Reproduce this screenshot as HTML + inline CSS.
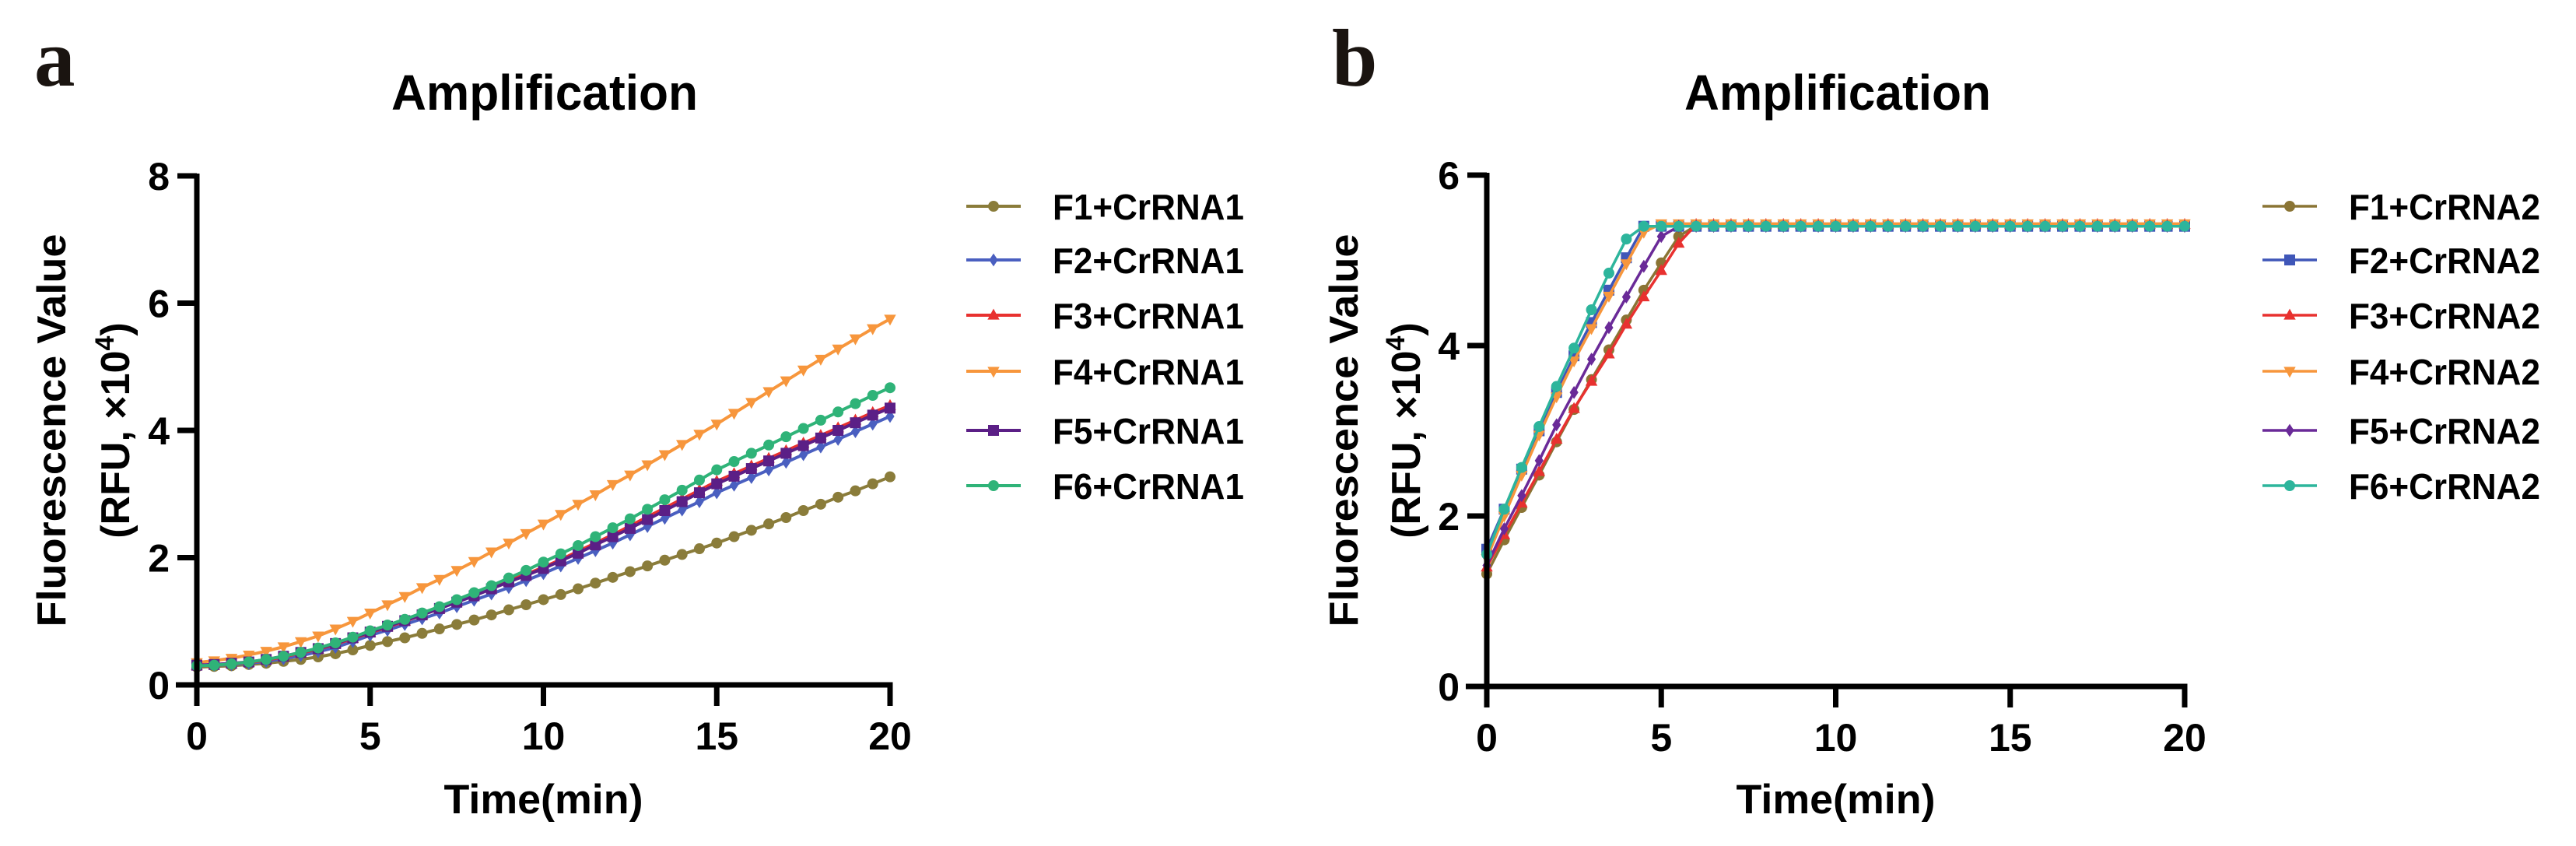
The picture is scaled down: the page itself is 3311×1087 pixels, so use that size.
<!DOCTYPE html>
<html><head><meta charset="utf-8"><style>
html,body{margin:0;padding:0;background:#fff;}
svg{display:block;font-family:"Liberation Sans",Arial,sans-serif;font-weight:bold;}
</style></head><body>
<svg id="fig" width="3311" height="1087" viewBox="0 0 3311 1087" xmlns="http://www.w3.org/2000/svg">
<rect width="3311" height="1087" fill="#fff"/>
<g id="pa"></g>
<g id="pb"></g>
</svg>
<script>
const timesA = [];
const timesB = [];
const xTicks = [0,5,10,15,20];
const yTicksA = [0,2,4,6,8];
const yTicksB = [0,2,4,6];
const legendA = ["F1+CrRNA1","F2+CrRNA1","F3+CrRNA1","F4+CrRNA1","F5+CrRNA1","F6+CrRNA1"];
const legendB = ["F1+CrRNA2","F2+CrRNA2","F3+CrRNA2","F4+CrRNA2","F5+CrRNA2","F6+CrRNA2"];
for (let i = 0; i <= 40; i++) { timesA.push(i * 0.5); timesB.push(i * 0.5); }

const a_F1 = [.28,.29,.30,.32,.34,.37,.40,.44,.49,.55,.62,.68,.74,.81,.88,.95,1.02,1.10,1.18,1.26,1.34,1.42,1.51,1.60,1.69,1.78,1.87,1.96,2.05,2.14,2.23,2.33,2.43,2.53,2.63,2.74,2.84,2.95,3.05,3.16,3.27];
const a_F2 = [.30,.31,.32,.34,.37,.41,.46,.52,.59,.68,.78,.86,.95,1.04,1.13,1.23,1.33,1.43,1.53,1.64,1.75,1.87,1.99,2.11,2.23,2.36,2.49,2.62,2.75,2.88,3.02,3.14,3.26,3.38,3.50,3.62,3.74,3.86,3.98,4.10,4.22];
const a_F3 = [.30,.31,.33,.35,.39,.44,.50,.56,.64,.73,.82,.91,1.00,1.10,1.20,1.31,1.42,1.53,1.64,1.74,1.85,1.97,2.10,2.23,2.36,2.50,2.64,2.78,2.92,3.06,3.20,3.32,3.44,3.56,3.68,3.80,3.92,4.04,4.16,4.28,4.39];
const a_F4 = [.35,.38,.42,.47,.53,.60,.68,.77,.88,1.00,1.13,1.26,1.39,1.53,1.66,1.80,1.94,2.09,2.23,2.38,2.53,2.68,2.84,2.99,3.15,3.30,3.46,3.62,3.78,3.94,4.10,4.27,4.44,4.61,4.78,4.95,5.12,5.28,5.44,5.60,5.75];
const a_F5 = [.31,.32,.34,.36,.40,.45,.51,.57,.65,.74,.83,.92,1.01,1.10,1.20,1.30,1.40,1.51,1.62,1.72,1.83,1.95,2.07,2.20,2.33,2.46,2.60,2.74,2.88,3.02,3.16,3.28,3.40,3.52,3.64,3.76,3.88,4.00,4.12,4.24,4.35];
const a_F6 = [.30,.31,.33,.36,.40,.45,.51,.58,.66,.75,.85,.94,1.03,1.13,1.23,1.34,1.45,1.56,1.68,1.80,1.93,2.06,2.19,2.33,2.47,2.61,2.76,2.91,3.06,3.22,3.38,3.51,3.64,3.77,3.90,4.03,4.16,4.29,4.42,4.55,4.67];

const b_F1 = [1.32,1.72,2.10,2.48,2.87,3.25,3.60,3.95,4.30,4.65,4.97,5.28,5.41,5.41,5.41,5.41,5.41,5.41,5.41,5.41,5.41,5.41,5.41,5.41,5.41,5.41,5.41,5.41,5.41,5.41,5.41,5.41,5.41,5.41,5.41,5.41,5.41,5.41,5.41,5.41,5.41];
const b_F2 = [1.61,2.08,2.55,3.00,3.45,3.88,4.27,4.65,5.03,5.40,5.40,5.40,5.40,5.40,5.40,5.40,5.40,5.40,5.40,5.40,5.40,5.40,5.40,5.40,5.40,5.40,5.40,5.40,5.40,5.40,5.40,5.40,5.40,5.40,5.40,5.40,5.40,5.40,5.40,5.40,5.40];
const b_F3 = [1.40,1.78,2.15,2.52,2.90,3.26,3.58,3.90,4.25,4.57,4.88,5.20,5.42,5.42,5.42,5.42,5.42,5.42,5.42,5.42,5.42,5.42,5.42,5.42,5.42,5.42,5.42,5.42,5.42,5.42,5.42,5.42,5.42,5.42,5.42,5.42,5.42,5.42,5.42,5.42,5.42];
const b_F4 = [1.50,2.00,2.48,2.95,3.40,3.82,4.20,4.58,4.96,5.33,5.43,5.43,5.43,5.43,5.43,5.43,5.43,5.43,5.43,5.43,5.43,5.43,5.43,5.43,5.43,5.43,5.43,5.43,5.43,5.43,5.43,5.43,5.43,5.43,5.43,5.43,5.43,5.43,5.43,5.43,5.43];
const b_F5 = [1.42,1.85,2.24,2.65,3.07,3.45,3.84,4.21,4.57,4.93,5.28,5.40,5.40,5.40,5.40,5.40,5.40,5.40,5.40,5.40,5.40,5.40,5.40,5.40,5.40,5.40,5.40,5.40,5.40,5.40,5.40,5.40,5.40,5.40,5.40,5.40,5.40,5.40,5.40,5.40,5.40];
const b_F6 = [1.55,2.08,2.57,3.05,3.52,3.97,4.42,4.85,5.25,5.40,5.40,5.40,5.40,5.40,5.40,5.40,5.40,5.40,5.40,5.40,5.40,5.40,5.40,5.40,5.40,5.40,5.40,5.40,5.40,5.40,5.40,5.40,5.40,5.40,5.40,5.40,5.40,5.40,5.40,5.40,5.40];

const NS = "http://www.w3.org/2000/svg";
function mk(tag, attrs, parent) {
  const e = document.createElementNS(NS, tag);
  for (const k in attrs) e.setAttribute(k, attrs[k]);
  parent.appendChild(e);
  return e;
}
function marker(g, shape, x, y, s, color) {
  let e;
  if (shape === "circle") e = mk("circle", {cx:x, cy:y, r:s}, g);
  else if (shape === "square") e = mk("rect", {x:x-s, y:y-s, width:2*s, height:2*s}, g);
  else if (shape === "diamond") e = mk("polygon", {points:`${x},${y-s*1.2} ${x+s*0.8},${y} ${x},${y+s*1.2} ${x-s*0.8},${y}`}, g);
  else if (shape === "up") e = mk("polygon", {points:`${x},${y-s*1.2} ${x+s*1.1},${y+s*0.8} ${x-s*1.1},${y+s*0.8}`}, g);
  else e = mk("polygon", {points:`${x},${y+s*1.2} ${x+s*1.1},${y-s*0.8} ${x-s*1.1},${y-s*0.8}`}, g);
  e.setAttribute('fill', color);
  
  
}

function panel(cfg) {
  const g = document.getElementById(cfg.id);
  const X = v => cfg.x0 + (v / 20) * (cfg.x20 - cfg.x0);
  const Y = v => cfg.y0 - (v / cfg.ymax) * (cfg.y0 - cfg.ytop);
  const L = mk("text", {x:cfg.letterX, y:110, "font-family":"Liberation Serif, serif", "font-size":105, "font-weight":"bold", fill:"#1a1410"}, g);
  L.textContent = cfg.letter;
  
  
  const T = mk("text", {x:cfg.titleX, y:141, "font-size":64, "text-anchor":"middle", textLength:394, lengthAdjust:"spacingAndGlyphs"}, g);
  T.textContent = "Amplification";
  
  
  cfg.series.forEach((s, i) => {
    const sg = mk("g", {}, g);
    
    
    const pts = s.data.map((v, j) => X(cfg.times[j]).toFixed(1) + "," + Y(v).toFixed(1)).join(" ");
    const pl = mk("polyline", {points:pts, fill:"none", stroke:s.color, "stroke-width":cfg.lw, "stroke-linejoin":"round"}, sg);
    
    
    s.data.forEach((v, j) => marker(sg, s.shape, X(cfg.times[j]), Y(v), cfg.ms, s.color));
  });
  const ax = mk("g", {stroke:"#000", "stroke-width":7, fill:"none"}, g);
  
  
  mk("line", {x1:cfg.x0, y1:cfg.ytop-3, x2:cfg.x0, y2:cfg.y0+27}, ax);
  mk("line", {x1:cfg.x0-27, y1:cfg.y0, x2:cfg.x20+3.5, y2:cfg.y0}, ax);
  xTicks.forEach(t => {
    mk("line", {x1:X(t), y1:cfg.y0, x2:X(t), y2:cfg.y0+27}, ax);
    const tx = mk("text", {x:X(t), y:cfg.y0+83, "font-size":50, "text-anchor":"middle"}, g);
    tx.textContent = t;
    
    
  });
  cfg.yticks.forEach(t => {
    mk("line", {x1:cfg.x0-25, y1:Y(t), x2:cfg.x0, y2:Y(t)}, ax);
    const ty = mk("text", {x:cfg.x0-35, y:Y(t)+18, "font-size":50, "text-anchor":"end"}, g);
    ty.textContent = t;
    
    
  });
  const xt = mk("text", {x:(cfg.x0+cfg.x20)/2, y:1045, "font-size":53, "text-anchor":"middle", textLength:256, lengthAdjust:"spacingAndGlyphs"}, g);
  xt.textContent = "Time(min)";
  
  
  const yt = mk("text", {transform:`translate(${cfg.yl1},553) rotate(-90)`, "font-size":52, "text-anchor":"middle", textLength:505, lengthAdjust:"spacingAndGlyphs"}, g);
  yt.textContent = "Fluorescence Value";
  
  
  const yt2 = mk("text", {transform:`translate(${cfg.yl2},553) rotate(-90)`, "font-size":52, "text-anchor":"middle"}, g);
  
  
  yt2.appendChild(document.createTextNode("(RFU, ×10"));
  const sup = mk("tspan", {dy:-20, "font-size":34}, yt2);
  sup.textContent = "4";
  const cl = mk("tspan", {dy:20}, yt2);
  cl.textContent = ")";
  const rows = [265,334,405,477,553,624];
  cfg.series.forEach((s, i) => {
    const lg = mk("g", {}, g);
    
    
    mk("line", {x1:cfg.legX, y1:rows[i], x2:cfg.legX+70, y2:rows[i], stroke:s.color, "stroke-width":cfg.lw}, lg);
    marker(lg, s.shape, cfg.legX+35, rows[i], cfg.ms, s.color);
    const lt = mk("text", {x:cfg.legX+111, y:rows[i]+17, "font-size":46, textLength:246, lengthAdjust:"spacingAndGlyphs"}, lg);
    lt.textContent = cfg.legend[i];
  });
}

panel({id:"pa", letter:"a", letterX:44, titleX:700, x0:253, x20:1144, y0:880, ytop:226, ymax:8,
  yticks:yTicksA, times:timesA, legend:legendA, legX:1242, yl1:84, yl2:166, lw:4, ms:7,
  series:[
    {data:a_F1, color:"#8a7c3a", shape:"circle"},
    {data:a_F2, color:"#4a5fc0", shape:"diamond"},
    {data:a_F3, color:"#e8312f", shape:"up"},
    {data:a_F4, color:"#f7963c", shape:"down"},
    {data:a_F5, color:"#5b1f86", shape:"square"},
    {data:a_F6, color:"#2fb378", shape:"circle"}
  ]});
panel({id:"pb", letter:"b", letterX:1712, titleX:2362, x0:1911, x20:2808, y0:882, ytop:225, ymax:6,
  yticks:yTicksB, times:timesB, legend:legendB, legX:2908, yl1:1745, yl2:1825, lw:3.5, ms:7,
  series:[
    {data:b_F1, color:"#8a7434", shape:"circle"},
    {data:b_F2, color:"#3f56b8", shape:"square"},
    {data:b_F3, color:"#e8312f", shape:"up"},
    {data:b_F4, color:"#f7963c", shape:"down"},
    {data:b_F5, color:"#6a2a98", shape:"diamond"},
    {data:b_F6, color:"#2db59c", shape:"circle"}
  ]});
</script>
</body></html>
